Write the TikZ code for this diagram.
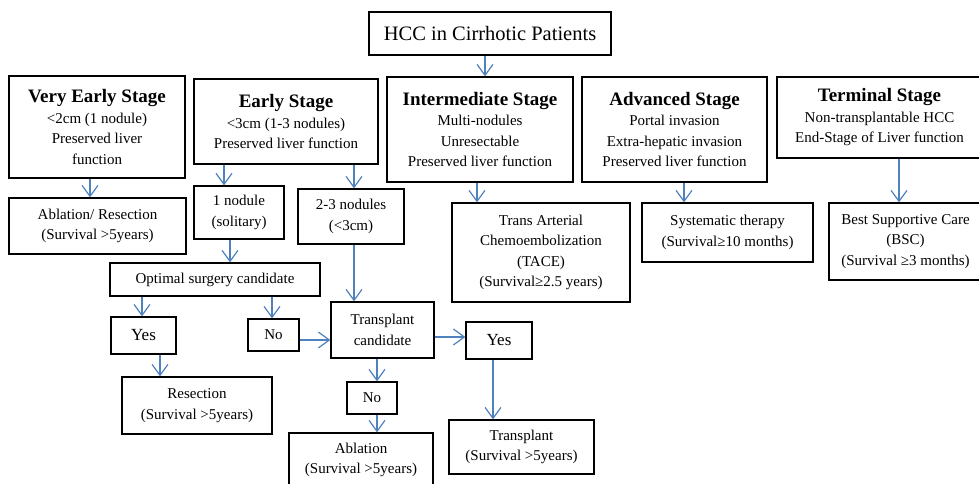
\documentclass[tikz,border=0pt]{standalone}
\usepackage{fontspec}
\setmainfont{Liberation Serif}
\usetikzlibrary{arrows.meta}
\definecolor{arrblue}{RGB}{79,129,189}
\tikzset{
  box/.style={draw=black, line width=1.3pt, rectangle, inner sep=0pt, align=center,
    font=\fontsize{15}{20.5}\selectfont},
  arr/.style={draw=arrblue, line width=1.2pt,
    -{Straight Barb[length=11pt,width=16pt,line width=1.2pt]}},
  bigtxt/.style={font=\fontsize{17}{20.5}\selectfont},
}
\newcommand\ttl[1]{{\fontsize{19}{20.5}\selectfont\bfseries #1}}
% \bx[opts]{name}{x1}{y1}{x2}{y2}{text}
\newcommand\bx[7][]{\node[box,#1,minimum width={#5-#3},minimum height={#6-#4}] (#2) at ({(#3+#5)/2},{(#4+#6)/2}) {#7};}
\newcommand\varr[3]{\path ([xshift=#2pt]#1.south) coordinate (t); \draw[arr] (t) -- (t |- #3.north);}
\newcommand\harr[3]{\path ([yshift=#2pt]#1.east) coordinate (t); \draw[arr] (t) -- (t -| #3.west);}
\begin{document}
\begin{tikzpicture}[x=1pt,y=-1pt]
\useasboundingbox (0,0) rectangle (979,483);
\bx[font=\fontsize{20.5}{22}\selectfont]{hcc}{369}{12}{611}{55}{HCC in Cirrhotic Patients}
\bx{vearly}{9}{76}{185}{178}{\ttl{Very Early Stage}\\<2cm (1 nodule)\\Preserved liver\\function}
\bx{ablres}{9}{198}{186}{254}{Ablation/ Resection\\(Survival >5years)}
\bx{early}{194}{79}{378}{164}{\ttl{Early Stage}\\<3cm (1-3 nodules)\\Preserved liver function}
\bx{one}{194}{186}{284}{239}{1 nodule\\(solitary)}
\bx{two}{298}{189}{404}{244}{2-3 nodules\\(<3cm)}
\bx{inter}{387}{77}{573}{182}{\ttl{Intermediate Stage}\\Multi-nodules\\Unresectable\\Preserved liver function}
\bx{tace}{452}{203}{630}{302}{Trans Arterial\\Chemoembolization\\(TACE)\\(Survival≥2.5 years)}
\bx{adv}{582}{77}{767}{182}{\ttl{Advanced Stage}\\Portal invasion\\Extra-hepatic invasion\\Preserved liver function}
\bx{sys}{642}{203}{813}{262}{Systematic therapy\\(Survival≥10 months)}
\bx{term}{777}{77}{982}{158}{\ttl{Terminal Stage}\\Non-transplantable HCC\\End-Stage of Liver function}
\bx{bsc}{829}{203}{982}{280}{Best Supportive Care\\(BSC)\\(Survival ≥3 months)}
\bx{opt}{110}{263}{320}{296}{Optimal surgery candidate}
\bx[bigtxt]{yesL}{111}{317}{176}{354}{Yes}
\bx{noL}{248}{319}{299}{351}{No}
\bx{tc}{331}{302}{434}{358}{Transplant\\candidate}
\bx{resec}{122}{377}{272}{434}{Resection\\(Survival >5years)}
\bx{noB}{347}{382}{397}{414}{No}
\bx{abl}{289}{433}{433}{487}{Ablation\\(Survival >5years)}
\bx[bigtxt]{yesR}{466}{322}{532}{359}{Yes}
\bx{tp}{449}{420}{594}{474}{Transplant\\(Survival >5years)}
% arrows
\varr{hcc}{-5}{inter}
\varr{vearly}{-7}{ablres}
\varr{early}{-62}{one}
\varr{early}{68}{two}
\varr{one}{-9}{opt}
\varr{two}{3}{tc}
\varr{opt}{-73}{yesL}
\varr{opt}{57}{noL}
\varr{yesL}{16.5}{resec}
\varr{tc}{-5.5}{noB}
\varr{noB}{5}{abl}
\varr{yesR}{-6}{tp}
\varr{inter}{-3}{tace}
\varr{adv}{9.5}{sys}
\varr{term}{19.5}{bsc}
\harr{noL}{-5}{tc}
\harr{tc}{-7}{yesR}
\end{tikzpicture}
\end{document}
